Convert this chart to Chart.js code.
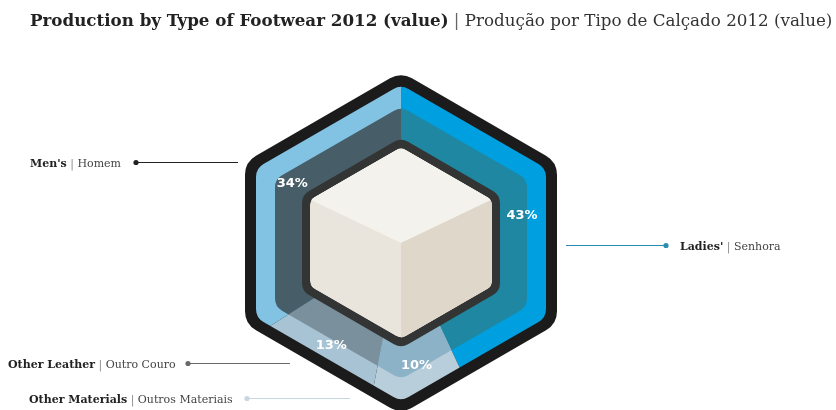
<!DOCTYPE html>
<html lang="en">
<head>
<meta charset="UTF-8">
<title>Production by Type of Footwear 2012</title>
<script src="https://cdn.jsdelivr.net/npm/chart.js"></script>
<style>
  html, body { margin: 0; padding: 0; background: #fff; }
  #wrap { width: 836px; height: 410px; }
</style>
</head>
<body>
<div id="wrap"><canvas id="shoeChart" width="836" height="410"></canvas></div>
<script>
  // values, clockwise from 12 o'clock
  const categories = ["Ladies'", 'Other Materials', 'Other Leather', "Men's"];
  const categoriesPt = ['Senhora', 'Outros Materiais', 'Outro Couro', 'Homem'];
  const shares = [43, 10, 13, 34];

  const outerColors = ['#009fe0', '#b8cedb', '#a8c3d3', '#82c3e4'];
  const innerColors = ['#1f87a1', '#8cb2c8', '#7a909c', '#475e68'];

  // callout rows next to the hexagon (text x, leader y, dot x, line end x)
  const callouts = [
    { i: 0, tx: 680, y: 245, dot: 666, end: 566, color: '#2b8cb2' },
    { i: 1, tx: 29, y: 398, dot: 247, end: 350, color: '#c6d7e2' },
    { i: 2, tx: 8, y: 363, dot: 188, end: 290, color: '#6a6a6a' },
    { i: 3, tx: 30, y: 162, dot: 136, end: 238, color: '#222' }
  ];

  const HEX_W = 156, HEX_V = 171;
  const K = 1 / Math.cos(Math.PI / 6), T = Math.tan(Math.PI / 6);

  function hexPoints(cx, cy, inset) {
    const hw = HEX_W - inset, v = HEX_V - inset * K, s = v - hw * T;
    return [[cx, cy - v], [cx + hw, cy - s], [cx + hw, cy + s], [cx, cy + v], [cx - hw, cy + s], [cx - hw, cy - s]];
  }

  function hexPath(ctx, cx, cy, inset, r) {
    const p = hexPoints(cx, cy, inset);
    ctx.moveTo((p[5][0] + p[0][0]) / 2, (p[5][1] + p[0][1]) / 2);
    for (let i = 0; i < 6; i++) {
      const a = p[i], b = p[(i + 1) % 6];
      ctx.arcTo(a[0], a[1], b[0], b[1], r);
    }
    ctx.closePath();
  }

  function poly(ctx, pts, color) {
    ctx.beginPath();
    ctx.moveTo(pts[0][0], pts[0][1]);
    pts.slice(1).forEach(p => ctx.lineTo(p[0], p[1]));
    ctx.closePath();
    ctx.fillStyle = color;
    ctx.fill();
  }

  const hexPlugin = {
    id: 'hexFrame',
    beforeDatasetsDraw(chart) {
      const el = chart.getDatasetMeta(0).data[0];
      const ctx = chart.ctx;
      ctx.save();
      ctx.beginPath(); hexPath(ctx, el.x, el.y, 0, 22);
      ctx.fillStyle = '#1b1b1b'; ctx.fill();
      ctx.beginPath(); hexPath(ctx, el.x, el.y, 11, 15);
      ctx.clip();
    },
    afterDatasetsDraw(chart) {
      const ctx = chart.ctx;
      ctx.restore();
      const meta = chart.getDatasetMeta(0);
      const cx = meta.data[0].x, cy = meta.data[0].y;

      // darker inner band on the same slice angles
      ctx.save();
      ctx.beginPath(); hexPath(ctx, cx, cy, 30, 14); ctx.clip();
      meta.data.forEach((el, i) => {
        ctx.beginPath();
        ctx.moveTo(cx, cy);
        ctx.arc(cx, cy, el.outerRadius, el.startAngle, el.endAngle);
        ctx.closePath();
        ctx.fillStyle = innerColors[i];
        ctx.fill();
      });
      ctx.restore();

      // frame round the cube
      ctx.beginPath(); hexPath(ctx, cx, cy, 57, 14);
      ctx.fillStyle = '#333434'; ctx.fill();

      // cube
      ctx.save();
      ctx.beginPath(); hexPath(ctx, cx, cy, 65, 10); ctx.clip();
      ctx.fillStyle = '#e9e5dc'; ctx.fill();
      const c = hexPoints(cx, cy, 65);
      poly(ctx, [c[0], c[1], [cx, cy], c[5]], '#f4f2ed');
      poly(ctx, [c[1], c[2], c[3], [cx, cy]], '#dfd7ca');
      ctx.restore();

      // percentages
      ctx.save();
      ctx.font = 'bold 13px "DejaVu Sans"';
      ctx.fillStyle = '#fff';
      ctx.textAlign = 'center';
      ctx.textBaseline = 'middle';
      meta.data.forEach((el, i) => {
        const mid = (el.startAngle + el.endAngle) / 2;
        ctx.fillText(shares[i] + '%', cx + 124 * Math.cos(mid), cy + 124 * Math.sin(mid));
      });
      ctx.restore();
    },
    afterDraw(chart) {
      const ctx = chart.ctx;
      ctx.save();
      ctx.textBaseline = 'alphabetic';

      // title, sized so it runs from x=30 to the right edge like the original
      const t1 = 'Production by Type of Footwear 2012 (value)';
      const t2 = ' | ';
      const t3 = 'Produção por Tipo de Calçado 2012 (value)';
      ctx.font = 'bold 15px "DejaVu Serif"';
      let w = ctx.measureText(t1).width;
      ctx.font = '15px "DejaVu Serif"';
      w += ctx.measureText(t2 + t3).width;
      const size = 15 * 803 / w;
      let x = 30;
      ctx.font = 'bold ' + size + 'px "DejaVu Serif"'; ctx.fillStyle = '#222';
      ctx.fillText(t1, x, 26); x += ctx.measureText(t1).width;
      ctx.font = size + 'px "DejaVu Serif"'; ctx.fillStyle = '#666';
      ctx.fillText(t2, x, 26); x += ctx.measureText(t2).width;
      ctx.fillStyle = '#333';
      ctx.fillText(t3, x, 26);

      // callouts
      callouts.forEach(c => {
        ctx.strokeStyle = c.color; ctx.lineWidth = 1;
        ctx.beginPath(); ctx.moveTo(c.dot, c.y + 0.5); ctx.lineTo(c.end, c.y + 0.5); ctx.stroke();
        ctx.beginPath(); ctx.arc(c.dot, c.y + 0.5, 2.6, 0, Math.PI * 2);
        ctx.fillStyle = c.color; ctx.fill();

        let tx = c.tx;
        const by = c.y + 4.5;
        ctx.font = 'bold 11px "DejaVu Serif"'; ctx.fillStyle = '#222';
        ctx.fillText(categories[c.i], tx, by); tx += ctx.measureText(categories[c.i]).width;
        ctx.font = '11px "DejaVu Serif"'; ctx.fillStyle = '#888';
        ctx.fillText(' | ', tx, by); tx += ctx.measureText(' | ').width;
        ctx.fillStyle = '#444';
        ctx.fillText(categoriesPt[c.i], tx, by);
      });
      ctx.restore();
    }
  };

  new Chart(document.getElementById('shoeChart'), {
    type: 'doughnut',
    data: {
      labels: categories,
      datasets: [{
        data: shares,
        backgroundColor: outerColors,
        borderWidth: 0
      }]
    },
    options: {
      responsive: false,
      animation: false,
      devicePixelRatio: 1,
      cutout: 0,
      radius: 175,
      rotation: 0,
      layout: { padding: { left: 0, right: 34, top: 76, bottom: 0 } },
      plugins: {
        legend: { display: false },
        tooltip: { enabled: false },
        title: { display: false }
      }
    },
    plugins: [hexPlugin]
  });
</script>
</body>
</html>
